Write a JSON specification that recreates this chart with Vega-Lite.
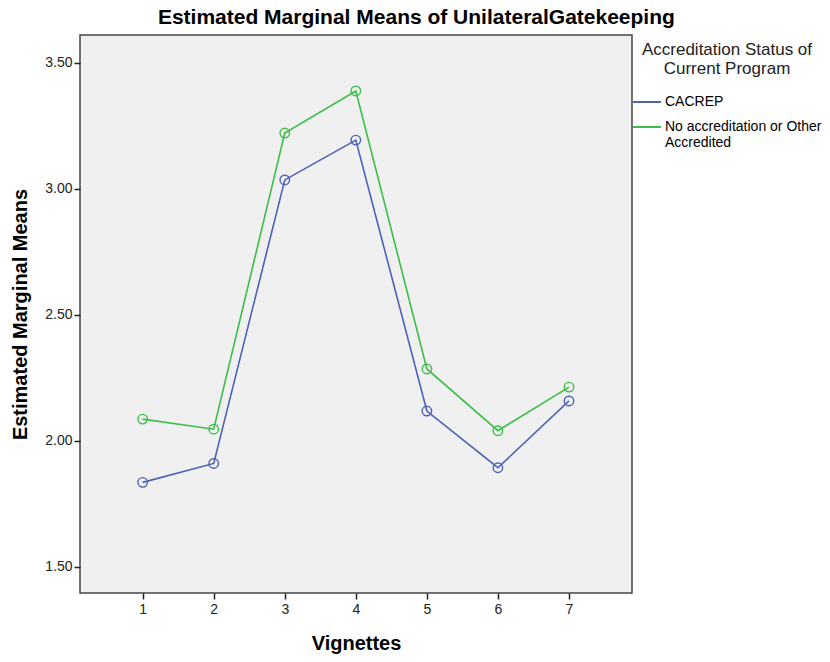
{
  "$schema": "https://vega.github.io/schema/vega-lite/v6.json",
  "width": 552,
  "height": 558,
  "autosize": {"type": "none"},
  "padding": {"left": 80, "top": 35, "right": 198, "bottom": 69},
  "background": "white",
  "title": {
    "text": "Estimated Marginal Means of UnilateralGatekeeping",
    "anchor": "middle",
    "frame": "bounds",
    "font": "Liberation Sans",
    "fontSize": 21,
    "fontWeight": "bold",
    "color": "#000000",
    "offset": 7
  },
  "config": {
    "view": {"fill": "#f0f0f0", "stroke": "#444444", "strokeWidth": 1.5},
    "axis": {
      "domain": false,
      "grid": false,
      "tickColor": "#222222",
      "tickSize": 6,
      "tickWidth": 1.5,
      "labelFont": "Liberation Sans",
      "labelFontSize": 14,
      "labelColor": "#222222",
      "titleFont": "Liberation Sans",
      "titleFontSize": 20,
      "titleFontWeight": "bold",
      "titleColor": "#000000"
    }
  },
  "data": {
    "values": [
      {"vignette": 1, "status": "CACREP", "mean": 1.835},
      {"vignette": 2, "status": "CACREP", "mean": 1.910},
      {"vignette": 3, "status": "CACREP", "mean": 3.035},
      {"vignette": 4, "status": "CACREP", "mean": 3.193},
      {"vignette": 5, "status": "CACREP", "mean": 2.118},
      {"vignette": 6, "status": "CACREP", "mean": 1.893},
      {"vignette": 7, "status": "CACREP", "mean": 2.158},
      {"vignette": 1, "status": "No accreditation or Other Accredited", "mean": 2.086},
      {"vignette": 2, "status": "No accreditation or Other Accredited", "mean": 2.046},
      {"vignette": 3, "status": "No accreditation or Other Accredited", "mean": 3.221},
      {"vignette": 4, "status": "No accreditation or Other Accredited", "mean": 3.388},
      {"vignette": 5, "status": "No accreditation or Other Accredited", "mean": 2.285},
      {"vignette": 6, "status": "No accreditation or Other Accredited", "mean": 2.040},
      {"vignette": 7, "status": "No accreditation or Other Accredited", "mean": 2.213}
    ]
  },
  "encoding": {
    "x": {
      "field": "vignette",
      "type": "quantitative",
      "title": "Vignettes",
      "scale": {"domain": [0.118, 7.887], "nice": false, "zero": false},
      "axis": {"values": [1, 2, 3, 4, 5, 6, 7], "format": "d", "labelPadding": 3, "titlePadding": 17}
    },
    "y": {
      "field": "mean",
      "type": "quantitative",
      "title": "Estimated Marginal Means",
      "scale": {"domain": [1.396, 3.610], "nice": false, "zero": false},
      "axis": {"values": [1.5, 2.0, 2.5, 3.0, 3.5], "format": ".2f", "labelPadding": 2, "titlePadding": 14}
    },
    "color": {
      "field": "status",
      "type": "nominal",
      "scale": {"domain": ["CACREP", "No accreditation or Other Accredited"], "range": ["#4a62b8", "#3dbd4b"]},
      "legend": {
        "title": ["Accreditation Status of", "Current Program"],
        "orient": "none",
        "legendX": 552,
        "legendY": 7,
        "titleFont": "Liberation Sans",
        "titleFontSize": 17,
        "titleFontWeight": "normal",
        "titleColor": "#222222",
        "titleAlign": "center",
        "titleAnchor": "middle",
        "titlePadding": 9,
        "titleLineHeight": 19,
        "titleLimit": 300,
        "labelFont": "Liberation Sans",
        "labelFontSize": 14,
        "labelColor": "#000000",
        "labelOffset": 3,
        "labelLineHeight": 16,
        "labelLimit": 300,
        "labelExpr": "datum.label == 'No accreditation or Other Accredited' ? ['No accreditation or Other', 'Accredited'] : datum.label",
        "symbolType": "stroke",
        "symbolSize": 784,
        "symbolStrokeWidth": 2,
        "rowPadding": 3
      }
    }
  },
  "layer": [
    {"mark": {"type": "line", "strokeWidth": 1.6}},
    {"mark": {"type": "point", "filled": false, "size": 90, "strokeWidth": 1.4, "opacity": 1}}
  ]
}
